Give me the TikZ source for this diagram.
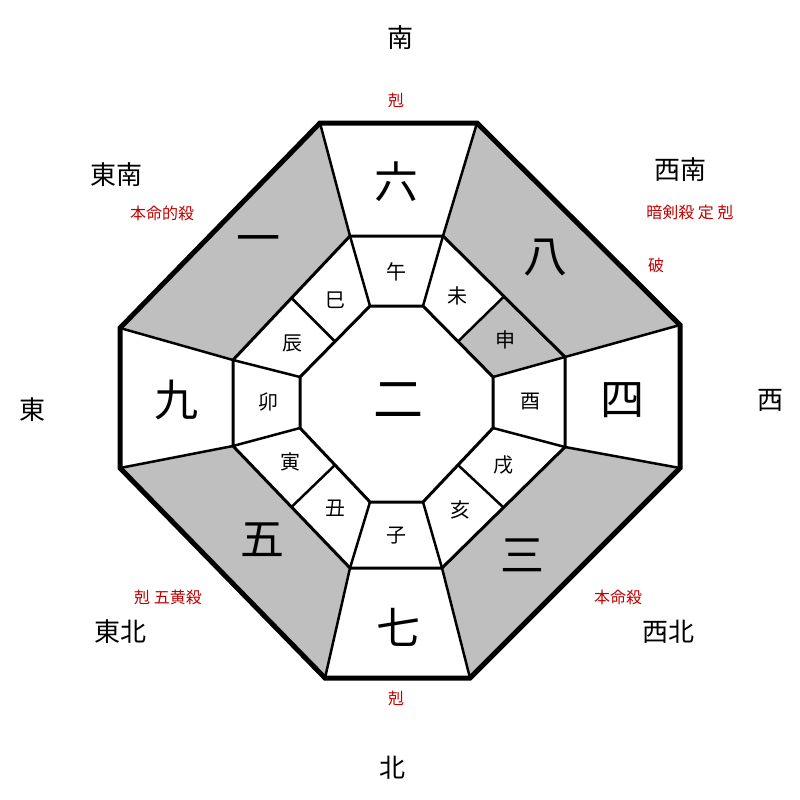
\documentclass[tikz,border=0pt]{standalone}
\usepackage{fontspec}
\usetikzlibrary{calc}
\newfontfamily\jp{Noto Sans CJK JP}
\tikzset{
  dir/.style={font=\jp\fontsize{26}{26}\selectfont},
  note/.style={font=\jp\fontsize{16}{16}\selectfont, text=red!75!black},
  gua/.style={font=\jp\fontsize{44}{44}\selectfont},
  zhi/.style={font=\jp\fontsize{20}{20}\selectfont},
  ring/.style={line width=3pt},
  spoke/.style={line width=2.5pt},
  shade/.style={fill=black!25}
}
\begin{document}
\begin{tikzpicture}[x=1pt,y=-1pt]
\useasboundingbox (0,0) rectangle (800,800);
% outer octagon
\coordinate (O1) at (320,123); \coordinate (O2) at (477,123);
\coordinate (O3) at (680,325); \coordinate (O4) at (680,468);
\coordinate (O5) at (470,678); \coordinate (O6) at (325,678);
\coordinate (O7) at (120,468); \coordinate (O8) at (120,328);
% middle ring
\coordinate (M1) at (350,236); \coordinate (M2) at (443,236);
\coordinate (M3) at (565,357); \coordinate (M4) at (565,447);
\coordinate (M5) at (442,568); \coordinate (M6) at (350,568);
\coordinate (M7) at (233,446); \coordinate (M8) at (233,360);
% inner octagon
\coordinate (I1) at (370,306); \coordinate (I2) at (423,306);
\coordinate (I3) at (493,377); \coordinate (I4) at (493,428);
\coordinate (I5) at (423,502); \coordinate (I6) at (370,502);
\coordinate (I7) at (300,428); \coordinate (I8) at (300,377);
% gray sectors
\fill[shade] (O2) -- (O3) -- (M3) -- (M2) -- cycle;
\fill[shade] (O4) -- (O5) -- (M5) -- (M4) -- cycle;
\fill[shade] (O6) -- (O7) -- (M7) -- (M6) -- cycle;
\fill[shade] (O8) -- (O1) -- (M1) -- (M8) -- cycle;
\fill[shade] ($(M2)!0.5!(M3)$) -- (M3) -- (I3) -- ($(I2)!0.5!(I3)$) -- cycle;
% rings
\draw[line width=5pt, line join=miter] (O1) -- (O2) -- (O3) -- (O4) -- (O5) -- (O6) -- (O7) -- (O8) -- cycle;
\draw[ring] (M1) -- (M2) -- (M3) -- (M4) -- (M5) -- (M6) -- (M7) -- (M8) -- cycle;
\draw[ring] (I1) -- (I2) -- (I3) -- (I4) -- (I5) -- (I6) -- (I7) -- (I8) -- cycle;
% spokes
\foreach \k in {1,...,8} {
  \draw[spoke] (O\k) -- (M\k);
  \draw[spoke] (M\k) -- (I\k);
}
\draw[spoke] ($(M2)!0.5!(M3)$) -- ($(I2)!0.5!(I3)$);
\draw[spoke] ($(M4)!0.5!(M5)$) -- ($(I4)!0.5!(I5)$);
\draw[spoke] ($(M6)!0.5!(M7)$) -- ($(I6)!0.5!(I7)$);
\draw[spoke] ($(M8)!0.5!(M1)$) -- ($(I8)!0.5!(I1)$);
% directions
\node[dir] (south) at (400,38) {南};
\node[dir] (southeast) at (116,175) {東南};
\node[dir] (southwest) at (680,170) {西南};
\node[dir] (east) at (32,410) {東};
\node[dir] (west) at (770,400) {西};
\node[dir] (northeast) at (120,632) {東北};
\node[dir] (northwest) at (668,632) {西北};
\node[dir] (north) at (392,768) {北};
% notes
\node[note] (nS) at (396,100) {剋};
\node[note] (nSE) at (162,213) {本命的殺};
\node[note] (nSW) at (690,212) {暗剣殺\ 定\ 剋};
\node[note] (nSW2) at (656,265) {破};
\node[note] (nNE) at (168,597) {剋\ 五黄殺};
\node[note] (nNW) at (618,597) {本命殺};
\node[note] (nN) at (396,698) {剋};
% trigram numbers
\node[gua] (g6) at (396,182) {六};
\node[gua] (g8) at (545,258) {八};
\node[gua] (g4) at (622,400) {四};
\node[gua] (g3) at (522,555) {三};
\node[gua] (g7) at (398,627) {七};
\node[gua] (g5) at (262,540) {五};
\node[gua] (g9) at (176,400) {九};
\node[gua] (g1) at (258,245) {一};
\node[gua, font=\jp\fontsize{50}{50}\selectfont] (g2) at (398,400) {二};
% branches
\node[zhi] (wu) at (396,272) {午};
\node[zhi] (wei) at (457,296) {未};
\node[zhi] (shen) at (505,340) {申};
\node[zhi] (you) at (530,402) {酉};
\node[zhi] (xu) at (503,465) {戌};
\node[zhi] (hai) at (460,510) {亥};
\node[zhi] (zi) at (396,536) {子};
\node[zhi] (chou) at (335,508) {丑};
\node[zhi] (yin) at (290,462) {寅};
\node[zhi] (mao) at (268,402) {卯};
\node[zhi] (chen) at (292,343) {辰};
\node[zhi] (si) at (335,300) {巳};
\end{tikzpicture}
\end{document}
